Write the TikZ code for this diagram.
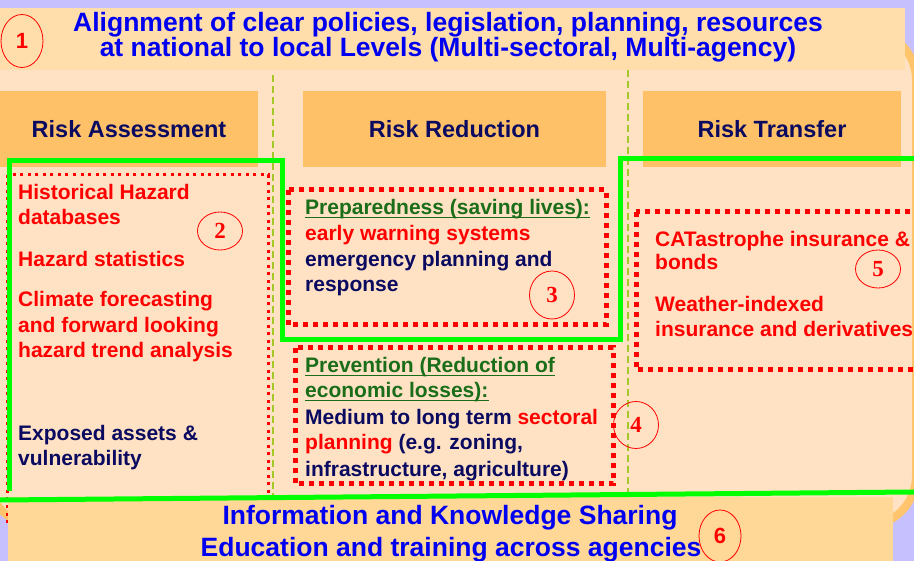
\documentclass[tikz,border=0pt]{standalone}
\usepackage{fontspec}
\setmainfont{Liberation Sans}
\newfontfamily\numfont{Liberation Serif}
\usetikzlibrary{shapes.geometric}
\definecolor{lavender}{HTML}{C6C0FF}
\definecolor{peach}{HTML}{FFE1C3}
\definecolor{rimorange}{HTML}{FFC46C}
\definecolor{topbg}{HTML}{FFDEAB}
\definecolor{headbg}{HTML}{FFC168}
\definecolor{footbg}{HTML}{FFD898}
\definecolor{navy}{HTML}{0A0A60}
\definecolor{titleblue}{HTML}{0000F0}
\definecolor{dkgreen}{HTML}{1A6E1A}
\definecolor{limegreen}{HTML}{00FF00}
\definecolor{olivedash}{HTML}{A4C828}

\begin{document}
\begin{tikzpicture}[x=1pt,y=-1pt,
  every node/.style={inner sep=0pt},
  head/.style={fill=headbg,minimum height=76pt,text=navy,
    font=\fontsize{23.5}{28}\selectfont\bfseries},
  banner/.style={anchor=base,text=titleblue,font=\fontsize{26.5}{30}\selectfont\bfseries},
  body/.style={anchor=base west,font=\fontsize{21}{25}\selectfont\bfseries},
  finedots/.style={red,line width=3pt,dash pattern=on 3pt off 4.5pt},
  bigdots/.style={red,line width=5pt,dash pattern=on 5pt off 5pt},
  grn/.style={limegreen,line width=5pt},
  numcirc/.style={ellipse,draw=red,line width=.8pt,text=red,minimum width=45pt}]
  \useasboundingbox (0,0) rectangle (914,561);
  % background, frame and banners
  \fill[lavender] (0,0) rectangle (914,561);
  \draw[rimorange,line width=8pt,fill=peach,rounded corners=50pt] (-12,30) rectangle (916,526);
  \fill[topbg] (0,8) rectangle (905,70);
  \node[head,minimum width=258pt] (ra) at (129,129) {Risk Assessment};
  \node[head,minimum width=303pt] (rr) at (454.5,129) {Risk Reduction};
  \node[head,minimum width=258pt] (rt) at (772,129) {Risk Transfer};
  \foreach \x/\t in {273/75,628/70}
    \draw[olivedash,line width=1.6pt,dash pattern=on 7pt off 4pt] (\x,\t) -- (\x,496);
  \draw[finedots] (7,175) rectangle (268,526);
  \fill[footbg] (8,497) rectangle (893,570);
  \draw[bigdots] (288,190) rectangle (606,325);
  \draw[bigdots] (295,348) rectangle (613,484);
  \draw[bigdots] (636,212) rectangle (940,370);
  \draw[grn] (9,491) -- (9,161) -- (282,161) -- (282,340) -- (620,340) -- (620,159) -- (920,159);
  \draw[grn] (0,500) -- (914,492);
  % texts
  \node[banner] (t1) at (448,32) {Alignment of clear policies, legislation, planning, resources};
  \node[banner] (t2) at (448,57) {at national to local Levels (Multi-sectoral, Multi-agency)};
  \node[banner] (b1) at (450,525) {Information and Knowledge Sharing};
  \node[banner] (b2) at (451,556) {Education and training across agencies};
  \foreach \y/\t in {200/Historical Hazard,225/databases,267/Hazard statistics,
      307/Climate forecasting,333/and forward looking,358/hazard trend analysis}
    \node[body,text=red] (a\y) at (18,\y) {\t};
  \foreach \y/\t in {441/Exposed assets \&,466/vulnerability}
    \node[body,text=navy] (a\y) at (18,\y) {\t};
  \node[body,text=dkgreen] (p215) at (305,215) {Preparedness (saving lives):};
  \node[body,text=red] (p241) at (305,241) {early warning systems};
  \foreach \y/\t in {267/emergency planning and,292/response}
    \node[body,text=navy] (p\y) at (305,\y) {\t};
  \foreach \y/\t in {373/Prevention (Reduction of,398/economic losses):}
    \node[body,text=dkgreen] (v\y) at (305,\y) {\t};
  \node[body,text=navy] (v425) at (305,425) {Medium to long term \textcolor{red}{sectoral}};
  \node[body,text=navy] (v450) at (305,450) {\textcolor{red}{planning} (e.g. zoning,};
  \node[body,text=navy] (v477) at (305,477) {infrastructure, agriculture)};
  \foreach \n in {p215,v373,v398}
    \draw[dkgreen,line width=1pt] ([yshift=-3pt]\n.base west) -- ([yshift=-3pt]\n.base east);
  \foreach \y/\t in {247/CATastrophe insurance \&,270/bonds,312/Weather-indexed,337/insurance and derivatives}
    \node[body,text=red] (c\y) at (655,\y) {\t};
  % numbered markers
  \node[numcirc,minimum width=42pt,minimum height=53pt,font=\fontsize{22}{24}\selectfont\bfseries] (n1) at (22,41) {1};
  \node[numcirc,minimum height=38pt,font=\numfont\fontsize{23}{24}\selectfont\bfseries] (n2) at (220,231) {2};
  \node[numcirc,minimum height=48pt,font=\numfont\fontsize{23}{24}\selectfont\bfseries] (n3) at (552,295) {3};
  \node[numcirc,minimum height=47pt,font=\numfont\fontsize{23}{24}\selectfont\bfseries] (n4) at (636,425) {4};
  \node[numcirc,minimum height=38pt,font=\numfont\fontsize{23}{24}\selectfont\bfseries] (n5) at (878,269) {5};
  \node[numcirc,minimum width=42pt,minimum height=52pt,font=\fontsize{22}{24}\selectfont\bfseries] (n6) at (720,536) {6};
\end{tikzpicture}
\end{document}
